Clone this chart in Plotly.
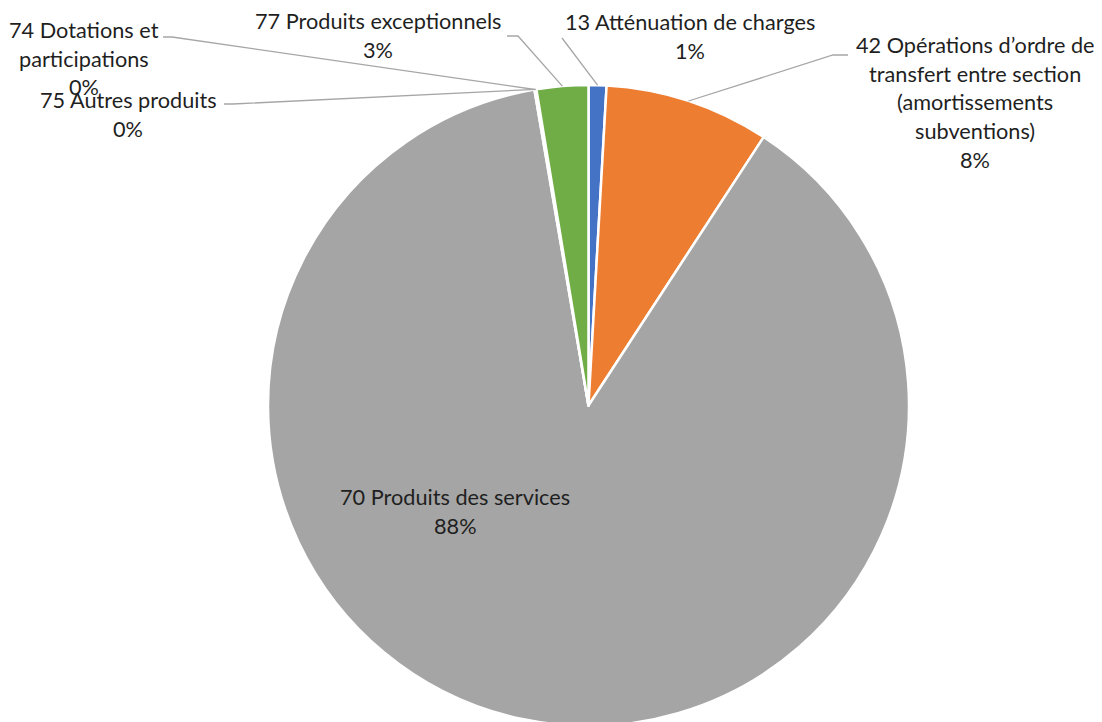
import math
import plotly.graph_objects as go

# ---- data ----
categories = ["13 Atténuation de charges",
              "42 Opérations d’ordre de transfert entre section (amortissements subventions)",
              "70 Produits des services",
              "74 Dotations et participations",
              "75 Autres produits",
              "77 Produits exceptionnels"]
values = [0.9, 8.3, 88.1, 0.05, 0.05, 2.6]
colors = ["#4472C4", "#ED7D31", "#A5A5A5", "#FFC000", "#5B9BD5", "#70AD47"]
label_lines = [
    ["13 Atténuation de charges"],
    ["42 Opérations d’ordre de", "transfert entre section", "(amortissements", "subventions)"],
    ["70 Produits des services"],
    ["74 Dotations et", "participations"],
    ["75 Autres produits"],
    ["77 Produits exceptionnels"],
]

# ---- layout geometry (pixels); page has an 8px body margin ----
OFF = 8
W, H = 1086, 718
ML, MR, MT, MB = 75, 0, 77, 0
PW, PH = W - ML - MR, H - MT - MB
R = min(PW, PH) / 2
CX, CY = OFF + ML + PW / 2, OFF + MT + PH / 2   # page pixels

def px(x):
    return (x - OFF - ML) / PW

def py(y):
    return 1 - (y - OFF - MT) / PH

# label placement: (center x, first line y) in page pixels
label_pos = [(690, 22), (975, 45), (455, 497), (84, 30), (128, 100), (378, 21)]
LINE_STEP = 28.7
# leader lines: pixel points starting at the label side, ending at slice edge
leader_start = [
    [(562, 38)],
    [(848, 55), (833, 55)],
    None,
    [(163, 37), (172, 37)],
    [(224, 104), (233, 104)],
    [(507, 36), (518, 36)],
]

total = sum(values)
fig = go.Figure(go.Pie(
    labels=categories, values=values, sort=False, direction="clockwise",
    rotation=0, textinfo="none", hoverinfo="label+percent",
    marker=dict(colors=colors, line=dict(color="white", width=2.5)),
    showlegend=False,
))

TEXT_COLOR = "#1F1F1F"
FONT = "Lato"
FS = 21.7

annotations = []
shapes = []
cum = 0.0
for i, v in enumerate(values):
    mid = (cum + v / 2) / total * 2 * math.pi
    cum += v
    pct = f"{round(v / total * 100)}%"
    lines = label_lines[i] + [pct]
    lx, ly = label_pos[i]
    for k, t in enumerate(lines):
        annotations.append(dict(
            x=px(lx), y=py(ly + k * LINE_STEP), xref="paper", yref="paper",
            text=t, showarrow=False, xanchor="center", yanchor="middle",
            font=dict(family=FONT, size=FS, color=TEXT_COLOR)))
    if leader_start[i]:
        ex = CX + R * math.sin(mid)
        ey = CY - R * math.cos(mid)
        pts = leader_start[i] + [(ex, ey)]
        path = "M " + " L ".join(f"{px(a)},{py(b)}" for a, b in pts)
        shapes.append(dict(type="path", path=path, xref="paper", yref="paper",
                           line=dict(color="#A6A6A6", width=1.3)))

fig.update_layout(
    width=W, height=H,
    margin=dict(l=ML, r=MR, t=MT, b=MB),
    paper_bgcolor="white", plot_bgcolor="white",
    annotations=annotations, shapes=shapes,
)
fig.write_html("out.html")
